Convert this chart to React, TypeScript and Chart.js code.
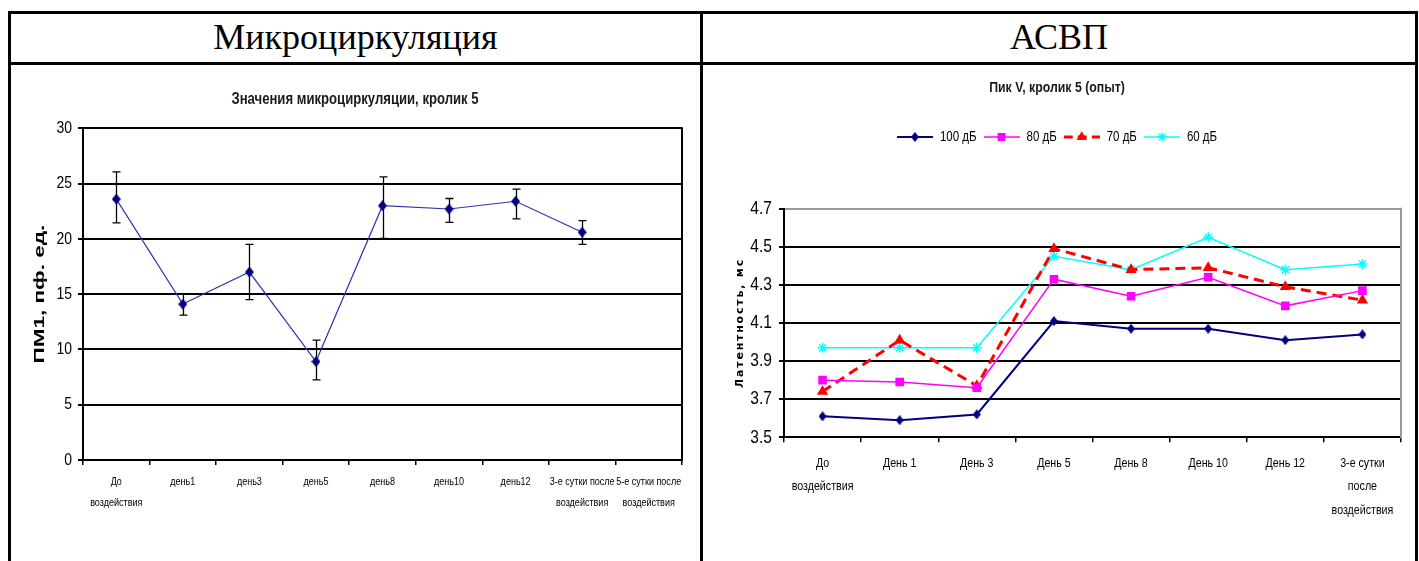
import React, { useEffect, useRef } from "react";
import { Chart, registerables } from "chart.js";
import { drawPoint } from "chart.js/helpers";

Chart.register(...registerables);

// Narrow sans for chart labels: uses a real narrow face if present, otherwise
// Liberation Sans compressed horizontally (see setupText below).
const NARROW = '"Liberation Sans Narrow", "Liberation Sans", Arial, sans-serif';
const PLAIN = '"Liberation Sans", Arial, sans-serif';
const SPACED = '"DejaVu Sans", Verdana, sans-serif';
const SERIF = '"Liberation Serif", "Times New Roman", serif';
const NARROW_FACTOR = 0.82;

// ---- Microcirculation (rabbit 5) ----
const microCategories: (string | string[])[] = [
  ["До", "воздействия"],
  "день1",
  "день3",
  "день5",
  "день8",
  "день10",
  "день12",
  ["3-е сутки после", "воздействия"],
  ["5-е сутки после", "воздействия"],
];
const microValues: (number | null)[] = [23.6, 14.1, 17.0, 8.9, 23.0, 22.7, 23.4, 20.6, null];
const microErrPlus: (number | null)[] = [2.45, 0.95, 2.5, 1.95, 2.6, 0.95, 1.1, 1.05, null];
const microErrMinus: (number | null)[] = [2.15, 1.0, 2.5, 1.65, 2.95, 1.2, 1.6, 1.1, null];
const microTicks = [0, 5, 10, 15, 20, 25, 30];

// ---- ABR, peak V latency (rabbit 5) ----
const abrCategories: (string | string[])[] = [
  ["До", "воздействия"],
  "День 1",
  "День 3",
  "День 5",
  "День 8",
  "День 10",
  "День 12",
  ["3-е сутки", "после", "воздействия"],
];
const abrSeriesNames = ["100 дБ", "80 дБ", "70 дБ", "60 дБ"];
const abr100 = [3.61, 3.59, 3.62, 4.11, 4.07, 4.07, 4.01, 4.04];
const abr80 = [3.8, 3.79, 3.76, 4.33, 4.24, 4.34, 4.19, 4.27];
const abr70 = [3.74, 4.01, 3.77, 4.49, 4.38, 4.39, 4.29, 4.22];
const abr60 = [3.97, 3.97, 3.97, 4.45, 4.38, 4.55, 4.38, 4.41];
const abrTicks = [3.5, 3.7, 3.9, 4.1, 4.3, 4.5, 4.7];

type SeriesStyle = {
  color: string;
  width: number;
  dash: number[];
  point: string;
  radius: number;
  filled: boolean;
};

const abrStyles: SeriesStyle[] = [
  { color: "#000080", width: 2, dash: [], point: "diamond", radius: 4, filled: true },
  { color: "#ff00ff", width: 1.5, dash: [], point: "rect", radius: 5, filled: true },
  { color: "#ff0000", width: 3, dash: [10, 6], point: "triangle", radius: 5, filled: true },
  { color: "#00ffff", width: 1.5, dash: [], point: "star", radius: 5, filled: false },
];

// Text width adjustments: the narrow family is compressed when no narrow face
// is installed, and axis titles can be stretched along their baseline.
function setupText(canvas: HTMLCanvasElement) {
  const ctx = canvas.getContext("2d") as any;
  const sample = "Значения микроциркуляции 0123";
  ctx.font = '20px "Liberation Sans Narrow", "Liberation Sans", sans-serif';
  const a = ctx.measureText(sample).width;
  ctx.font = '20px "Liberation Sans", sans-serif';
  const b = ctx.measureText(sample).width;
  const narrow = Math.abs(a - b) > 0.5 ? 1 : NARROW_FACTOR;
  const fill = ctx.fillText.bind(ctx);
  const measure = ctx.measureText.bind(ctx);
  const factor = () => {
    if (ctx.__stretch) return ctx.__stretch as number;
    return String(ctx.font).indexOf("Narrow") >= 0 ? narrow : 1;
  };
  ctx.fillText = (text: string, x: number, y: number, maxWidth?: number) => {
    const k = factor();
    if (k === 1) {
      return maxWidth === undefined ? fill(text, x, y) : fill(text, x, y, maxWidth);
    }
    ctx.save();
    ctx.translate(x, y);
    ctx.scale(k, 1);
    if (maxWidth === undefined) fill(text, 0, 0);
    else fill(text, 0, 0, maxWidth / k);
    ctx.restore();
  };
  ctx.measureText = (text: string) => {
    const m = measure(text);
    const k = factor();
    if (k === 1) return m;
    return {
      width: m.width * k,
      actualBoundingBoxLeft: m.actualBoundingBoxLeft * k,
      actualBoundingBoxRight: m.actualBoundingBoxRight * k,
      actualBoundingBoxAscent: m.actualBoundingBoxAscent,
      actualBoundingBoxDescent: m.actualBoundingBoxDescent,
      fontBoundingBoxAscent: m.fontBoundingBoxAscent,
      fontBoundingBoxDescent: m.fontBoundingBoxDescent,
    };
  };
}

// Axis title drawn stretched along its baseline
function stretchedTitle(factor: number) {
  return (s: any) => {
    if (s.__wrapped) return;
    s.__wrapped = true;
    const draw = s.drawTitle.bind(s);
    s.drawTitle = () => {
      s.ctx.__stretch = factor;
      draw();
      s.ctx.__stretch = 0;
    };
  };
}

// Axis title drawn with extra tracking
function spacedTitle(spacing: string) {
  return (s: any) => {
    if (s.__wrapped) return;
    s.__wrapped = true;
    const draw = s.drawTitle.bind(s);
    s.drawTitle = () => {
      const ctx = s.ctx;
      const prev = ctx.letterSpacing;
      ctx.letterSpacing = spacing;
      draw();
      ctx.letterSpacing = prev || "0px";
    };
  };
}

// Tall diamond marker
function diamond(w: number, h: number, color: string): HTMLCanvasElement {
  const c = document.createElement("canvas");
  c.width = w;
  c.height = h;
  const g = c.getContext("2d")!;
  g.fillStyle = color;
  g.beginPath();
  g.moveTo(w / 2, 0);
  g.lineTo(w, h / 2);
  g.lineTo(w / 2, h);
  g.lineTo(0, h / 2);
  g.closePath();
  g.fill();
  return c;
}

function markerFor(s: SeriesStyle): any {
  return s.point === "diamond" ? diamond(8, 10, s.color) : s.point;
}

// Small line + marker swatch used as a legend symbol
function makeSwatch(s: SeriesStyle): HTMLCanvasElement {
  const c = document.createElement("canvas");
  c.width = 36;
  c.height = 14;
  const ctx = c.getContext("2d")!;
  ctx.strokeStyle = s.color;
  ctx.fillStyle = s.color;
  ctx.lineWidth = s.width;
  ctx.setLineDash(s.dash.length ? [9, 5] : []);
  ctx.beginPath();
  ctx.moveTo(0, 7);
  ctx.lineTo(36, 7);
  ctx.stroke();
  ctx.setLineDash([]);
  ctx.lineWidth = 1.5;
  const m = markerFor(s);
  if (typeof m === "string") {
    drawPoint(ctx, { pointStyle: m as any, radius: s.radius - 0.5, rotation: 0, borderWidth: 1.5 }, 18, 7);
  } else {
    ctx.drawImage(m, 18 - m.width / 2, 7 - m.height / 2);
  }
  return c;
}

// Error bars for the microcirculation series
const errorBars = {
  id: "errorBars",
  beforeDatasetsDraw(chart: any) {
    const { ctx, scales } = chart;
    const x = scales.x;
    const y = scales.y;
    ctx.save();
    ctx.strokeStyle = "#000";
    ctx.lineWidth = 1.3;
    microValues.forEach((v, i) => {
      if (v == null) return;
      const px = Math.round(x.getPixelForValue(i)) + 0.5;
      const top = y.getPixelForValue(v + (microErrPlus[i] as number));
      const bot = y.getPixelForValue(v - (microErrMinus[i] as number));
      ctx.beginPath();
      ctx.moveTo(px, top);
      ctx.lineTo(px, bot);
      ctx.moveTo(px - 4, top);
      ctx.lineTo(px + 4, top);
      ctx.moveTo(px - 4, bot);
      ctx.lineTo(px + 4, bot);
      ctx.stroke();
    });
    ctx.restore();
  },
};

// Right-hand edge of the plot area
function plotFrame(color: string) {
  return {
    id: "plotFrame",
    beforeDatasetsDraw(chart: any) {
      const { ctx, chartArea } = chart;
      ctx.save();
      ctx.strokeStyle = color;
      ctx.lineWidth = 2;
      ctx.beginPath();
      ctx.moveTo(chartArea.right, chartArea.top - 1);
      ctx.lineTo(chartArea.right, chartArea.bottom + 1);
      ctx.stroke();
      ctx.restore();
    },
  };
}

function legendSpacing(extra: number) {
  return {
    id: "legendSpacing",
    beforeInit(chart: any) {
      const fit = chart.legend.fit;
      chart.legend.fit = function () {
        fit.bind(chart.legend)();
        this.height += extra;
      };
    },
  };
}

function microConfig(): any {
  return {
    type: "line",
    data: {
      labels: microCategories,
      datasets: [
        {
          data: microValues,
          borderColor: "#3030b0",
          borderWidth: 1.2,
          pointStyle: diamond(9, 11, "#000080"),
          pointRadius: 5,
          tension: 0,
        },
      ],
    },
    options: {
      responsive: false,
      animation: false,
      events: [],
      layout: { padding: { top: 0, left: 17, right: 18, bottom: 0 } },
      plugins: {
        legend: { display: false },
        tooltip: { enabled: false },
        title: {
          display: true,
          text: "Значения микроциркуляции, кролик 5",
          color: "#1a1a1a",
          font: { family: NARROW, size: 16, weight: "bold", lineHeight: 1.2 },
          padding: { top: 24.4, bottom: 18.7 },
        },
      },
      scales: {
        x: {
          type: "category",
          offset: true,
          grid: { drawOnChartArea: false, color: "#000", tickLength: 5, lineWidth: 1.5, offset: true },
          border: { color: "#000", width: 2 },
          ticks: {
            color: "#000",
            font: { family: NARROW, size: 11, lineHeight: 21 / 11 },
            padding: 6.5,
            maxRotation: 0,
            minRotation: 0,
            autoSkip: false,
          },
          afterFit: (s: any) => {
            s.height = 101;
          },
        },
        y: {
          min: 0,
          max: 30,
          afterBuildTicks: (s: any) => {
            s.ticks = microTicks.map((v) => ({ value: v }));
          },
          grid: { color: "#000", lineWidth: 2, tickLength: 5 },
          border: { color: "#000", width: 2 },
          ticks: { color: "#000", font: { family: NARROW, size: 17 }, padding: 6 },
          title: {
            display: true,
            text: "ПМ1, пф. ед.",
            color: "#000",
            font: { family: PLAIN, size: 15, weight: "bold", lineHeight: 1.2 },
            padding: { top: 3, bottom: 0 },
          },
          afterFit: (s: any) => {
            s.width = 55;
            stretchedTitle(1.5)(s);
          },
        },
      },
    },
    plugins: [errorBars, plotFrame("#000")],
  };
}

function abrConfig(): any {
  const series = [abr100, abr80, abr70, abr60];
  const swatches = abrStyles.map(makeSwatch);
  return {
    type: "line",
    data: {
      labels: abrCategories,
      datasets: series.map((data, i) => {
        const s = abrStyles[i];
        return {
          label: abrSeriesNames[i],
          data,
          borderColor: s.color,
          borderWidth: s.width,
          borderDash: s.dash,
          pointStyle: markerFor(s),
          pointRadius: s.radius,
          pointBorderWidth: 1.5,
          pointBackgroundColor: s.filled ? s.color : "transparent",
          pointBorderColor: s.color,
          tension: 0,
        };
      }),
    },
    options: {
      responsive: false,
      animation: false,
      events: [],
      layout: { padding: { top: 0, left: 10, right: 14, bottom: 0 } },
      plugins: {
        tooltip: { enabled: false },
        title: {
          display: true,
          text: "Пик V, кролик 5 (опыт)",
          color: "#1a1a1a",
          font: { family: NARROW, size: 15, weight: "bold", lineHeight: 1.2 },
          padding: { top: 13, bottom: 26 },
        },
        legend: {
          display: true,
          position: "top",
          labels: {
            color: "#000",
            font: { family: NARROW, size: 14 },
            padding: 7,
            usePointStyle: true,
            pointStyleWidth: 36,
            generateLabels: (chart: any) =>
              chart.data.datasets.map((ds: any, i: number) => ({
                text: ds.label,
                pointStyle: swatches[i],
                fillStyle: "transparent",
                strokeStyle: "transparent",
                lineWidth: 0,
                hidden: false,
                datasetIndex: i,
                fontColor: "#000",
              })),
          },
        },
      },
      scales: {
        x: {
          type: "category",
          offset: true,
          grid: { drawOnChartArea: false, color: "#000", tickLength: 5, lineWidth: 1.5, offset: true },
          border: { color: "#000", width: 2 },
          ticks: {
            color: "#000",
            font: { family: NARROW, size: 13, lineHeight: 23.5 / 13 },
            padding: 9,
            maxRotation: 0,
            minRotation: 0,
            autoSkip: false,
          },
          afterFit: (s: any) => {
            s.height = 123.7;
          },
        },
        y: {
          min: 3.5,
          max: 4.7,
          afterBuildTicks: (s: any) => {
            s.ticks = abrTicks.map((v) => ({ value: v }));
          },
          grid: {
            color: (c: any) => (c.tick && c.tick.value === 4.7 ? "#9a9a9a" : "#000"),
            tickColor: "#000",
            lineWidth: 2,
            tickLength: 5,
          },
          border: { color: "#000", width: 2 },
          ticks: {
            color: "#000",
            font: { family: NARROW, size: 19 },
            padding: 7,
            callback: (v: any) => Number(v).toFixed(1),
          },
          title: {
            display: true,
            text: "Латентность, мс",
            color: "#000",
            font: { family: SPACED, size: 11, weight: "bold", lineHeight: 1.2 },
            padding: { top: 20.4, bottom: 0 },
          },
          afterFit: (s: any) => {
            s.width = 71;
            spacedTitle("1.8px")(s);
          },
        },
      },
    },
    plugins: [plotFrame("#9a9a9a"), legendSpacing(54.7)],
  };
}

const rule = (style: React.CSSProperties): React.CSSProperties => ({
  position: "absolute",
  background: "#000",
  ...style,
});

export default function App() {
  const microRef = useRef<HTMLCanvasElement>(null);
  const abrRef = useRef<HTMLCanvasElement>(null);

  useEffect(() => {
    setupText(microRef.current!);
    setupText(abrRef.current!);
    const c1 = new Chart(microRef.current!, microConfig());
    const c2 = new Chart(abrRef.current!, abrConfig());
    return () => {
      c1.destroy();
      c2.destroy();
    };
  }, []);

  const headerText: React.CSSProperties = {
    position: "absolute",
    top: 13,
    height: 48,
    lineHeight: "48px",
    textAlign: "center",
    fontFamily: SERIF,
    fontSize: 36,
    color: "#000",
    whiteSpace: "nowrap",
  };

  return (
    <div
      style={{
        position: "absolute",
        left: 0,
        top: 0,
        width: 1419,
        height: 561,
        background: "#fff",
        overflow: "hidden",
      }}
    >
      {/* table rules */}
      <div style={rule({ left: 8, top: 11, width: 1410, height: 3 })} />
      <div style={rule({ left: 8, top: 62, width: 1410, height: 3 })} />
      <div style={rule({ left: 8, top: 11, width: 3, height: 550 })} />
      <div style={rule({ left: 700, top: 11, width: 3, height: 550 })} />
      <div style={rule({ left: 1415, top: 11, width: 3, height: 550 })} />

      <div style={{ ...headerText, left: 11, width: 689 }}>Микроциркуляция</div>
      <div style={{ ...headerText, left: 703, width: 712 }}>АСВП</div>

      <canvas
        ref={microRef}
        width={689}
        height={495}
        style={{ position: "absolute", left: 11, top: 66, width: 689, height: 495 }}
      />
      <canvas
        ref={abrRef}
        width={712}
        height={495}
        style={{ position: "absolute", left: 703, top: 66, width: 712, height: 495 }}
      />
    </div>
  );
}
